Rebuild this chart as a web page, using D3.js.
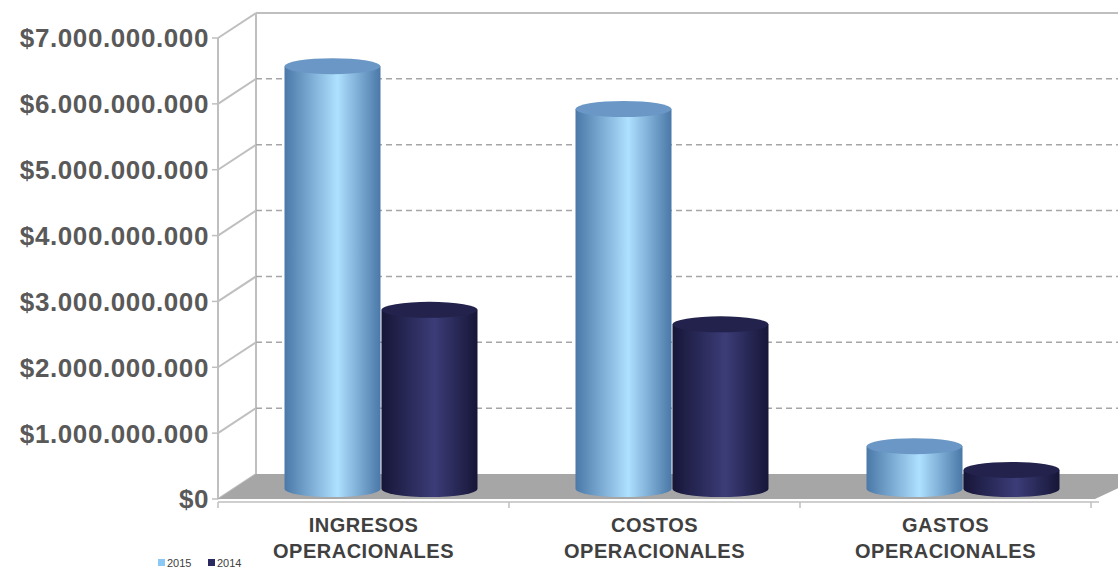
<!DOCTYPE html><html><head><meta charset="utf-8">
<script src="https://cdn.jsdelivr.net/npm/d3@7"></script>
<style>body{margin:0;background:#fff}svg{font-family:"Liberation Sans",Arial,sans-serif}</style></head>
<body><svg id="c" width="1118" height="569"></svg>
<script>
const categories=[["INGRESOS","OPERACIONALES"],["COSTOS","OPERACIONALES"],["GASTOS","OPERACIONALES"]];
const series=["2015","2014"];
const values2015=[6.42e9,5.77e9,0.65e9];
const values2014=[2.72e9,2.50e9,0.29e9];
const ticks=[0,1e9,2e9,3e9,4e9,5e9,6e9,7e9];
const tickLabels=["$0","$1.000.000.000","$2.000.000.000","$3.000.000.000","$4.000.000.000","$5.000.000.000","$6.000.000.000","$7.000.000.000"];

const svg=d3.select("#c");
const X0=218,X1=1091,DX=38,DY=-25;
const y=d3.scaleLinear().domain([0,7e9]).range([499,38]);
const x=d3.scaleBand().domain([0,1,2]).range([X0,X1]);
const defs=svg.append("defs");
function grad(id,edge,mid){const g=defs.append("linearGradient").attr("id",id);
 g.append("stop").attr("offset","0%").attr("stop-color",edge);
 g.append("stop").attr("offset","55%").attr("stop-color",mid);
 g.append("stop").attr("offset","100%").attr("stop-color",edge);}
grad("g15","#4a78a8","#aee0ff");grad("g14","#161638","#3c3c78");
const tops={"2015":"#6a97c5","2014":"#22224c"};
const grey="#bfbfbf";
svg.append("line").attr("x1",X0+DX).attr("x2",X0+DX).attr("y1",y(0)+DY).attr("y2",y(7e9)+DY).attr("stroke",grey).attr("stroke-width",2);
svg.append("line").attr("x1",X0+DX).attr("x2",1118).attr("y1",y(7e9)+DY).attr("y2",y(7e9)+DY).attr("stroke",grey).attr("stroke-width",2);
ticks.slice(1,7).forEach(t=>svg.append("line").attr("x1",X0+DX).attr("x2",1118).attr("y1",y(t)+DY).attr("y2",y(t)+DY).attr("stroke","#a6a6a6").attr("stroke-width",1.5).attr("stroke-dasharray","6,4"));
ticks.forEach(t=>svg.append("line").attr("x1",X0).attr("y1",y(t)).attr("x2",X0+DX).attr("y2",y(t)+DY).attr("stroke",grey).attr("stroke-width",2));
svg.append("line").attr("x1",X0).attr("x2",X0).attr("y1",y(0)).attr("y2",y(7e9)).attr("stroke",grey).attr("stroke-width",2);
svg.append("path").attr("d",`M${X0},${y(0)}L${X1+4},${y(0)}L${1118+30},${y(0)+DY}L${X0+DX},${y(0)+DY}Z`).attr("fill","#a6a6a6");
svg.append("line").attr("x1",X0).attr("x2",X1+8).attr("y1",y(0)+3).attr("y2",y(0)+3).attr("stroke",grey).attr("stroke-width",1.5);
[0,1,2,3].forEach(i=>svg.append("line").attr("x1",X0+i*x.bandwidth()).attr("x2",X0+i*x.bandwidth()).attr("y1",y(0)+3).attr("y2",y(0)+9).attr("stroke",grey).attr("stroke-width",1.5));
ticks.forEach((t,i)=>{svg.append("line").attr("x1",X0-6).attr("x2",X0).attr("y1",y(t)).attr("y2",y(t)).attr("stroke",grey).attr("stroke-width",1.5);
 svg.append("text").attr("x",209).attr("y",y(t)).attr("dy","0.36em").attr("text-anchor","end").attr("font-size",26).attr("letter-spacing",0.6).attr("font-weight","bold").attr("fill","#595959").text(tickLabels[i]);});
const w=96,ry=8,base=489,scale=(y(0)-y(1e9))/1e9;
categories.forEach((c,i)=>{
 const cx=x(i)+x.bandwidth()/2+18;
 [[values2015[i],"2015",cx-w/2-1],[values2014[i],"2014",cx+w/2]].forEach(([v,s,bx])=>{
  const top=base-v*scale,l=bx-w/2,r=bx+w/2;
  svg.append("path").attr("d",`M${l},${top}L${l},${base}A${w/2},${ry} 0 0 0 ${r},${base}L${r},${top}Z`).attr("fill",`url(#g${s.slice(2)})`);
  svg.append("ellipse").attr("cx",bx).attr("cy",top).attr("rx",w/2).attr("ry",ry).attr("fill",tops[s]);
 });
 const cxl=x(i)+x.bandwidth()/2;
 const t=svg.append("text").attr("text-anchor","middle").attr("font-size",20).attr("letter-spacing",0.5).attr("font-weight","bold").attr("fill","#404040");
 t.append("tspan").attr("x",cxl).attr("y",532).text(c[0]);
 t.append("tspan").attr("x",cxl).attr("y",558).text(c[1]);
});
[["2015","#8cc8f5",158],["2014","#2a2a60",208]].forEach(([s,col,lx])=>{
 svg.append("rect").attr("x",lx).attr("y",559).attr("width",7).attr("height",7).attr("fill",col);
 svg.append("text").attr("x",lx+9).attr("y",567).attr("font-size",11).attr("fill","#404040").text(s);});
</script></body></html>
